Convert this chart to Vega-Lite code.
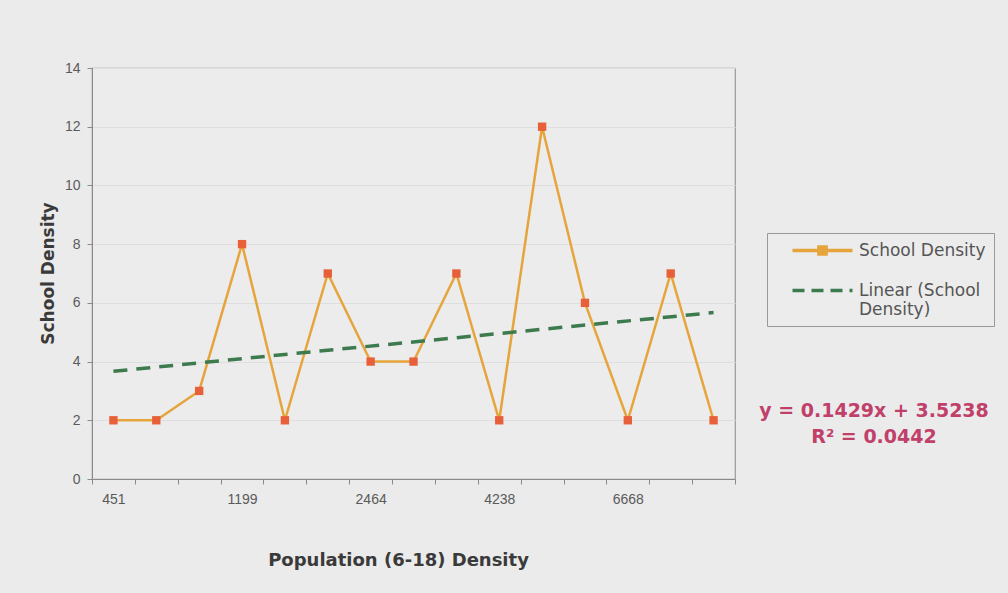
{
  "$schema": "https://vega.github.io/schema/vega-lite/v6.json",
  "width": 643,
  "height": 411,
  "autosize": "none",
  "padding": {"left": 92, "top": 68, "right": 273, "bottom": 114},
  "background": "#ebebeb",
  "title": {
    "text": ["y = 0.1429x + 3.5238", "R² = 0.0442"],
    "orient": "top",
    "anchor": "start",
    "frame": "group",
    "align": "center",
    "baseline": "middle",
    "offset": 0,
    "dx": 782,
    "dy": 395,
    "lineHeight": 26,
    "font": "DejaVu Sans",
    "fontSize": 19,
    "fontWeight": "bold",
    "color": "#c0406a"
  },
  "data": {
    "values": [
      {"pop": "451", "sd": 2, "trend": 3.67},
      {"pop": "612", "sd": 2},
      {"pop": "887", "sd": 3},
      {"pop": "1199", "sd": 8},
      {"pop": "1520", "sd": 2},
      {"pop": "1980", "sd": 7},
      {"pop": "2464", "sd": 4},
      {"pop": "2980", "sd": 4},
      {"pop": "3610", "sd": 7},
      {"pop": "4238", "sd": 2},
      {"pop": "5050", "sd": 12},
      {"pop": "5830", "sd": 6},
      {"pop": "6668", "sd": 2},
      {"pop": "7460", "sd": 7},
      {"pop": "8720", "sd": 2, "trend": 5.67}
    ]
  },
  "config": {
    "view": {"stroke": "#9a9a9a", "strokeWidth": 1.2, "fill": "#ececec"},
    "axis": {"labelFont": "Liberation Sans", "labelFontSize": 14, "labelColor": "#5a5a5a", "titleFont": "DejaVu Sans", "titleFontSize": 17, "titleFontWeight": "bold", "titleColor": "#3a3a3a", "domainColor": "#8a8a8a", "tickColor": "#8a8a8a"}
  },
  "encoding": {
    "x": {
      "field": "pop",
      "type": "ordinal",
      "sort": null,
      "scale": {"paddingInner": 0, "paddingOuter": 0},
      "axis": {
        "title": "Population (6-18) Density",
        "titleFontSize": 18,
        "titleX": 306,
        "titleY": 81,
        "titleBaseline": "middle",
        "labelAngle": 0,
        "tickBand": "extent",
        "tickSize": 5,
        "labelPadding": 8,
        "labelExpr": "indexof(['451','1199','2464','4238','6668'], datum.label) >= 0 ? datum.label : ''",
        "grid": false
      }
    }
  },
  "layer": [
    {
      "mark": {"type": "line", "strokeWidth": 2.5},
      "encoding": {
        "y": {
          "field": "sd",
          "type": "quantitative",
          "scale": {"domain": [0, 14]},
          "axis": {
            "title": "School Density",
            "values": [0, 2, 4, 6, 8, 10, 12, 14],
            "tickSize": 5,
            "labelPadding": 7,
            "titleAngle": 270,
            "titleX": -44,
            "titleY": 205,
            "titleAlign": "center",
            "titleBaseline": "middle",
            "grid": true,
            "gridColor": "#dedede",
            "gridWidth": 1
          }
        },
        "color": {
          "datum": "School Density",
          "type": "nominal",
          "scale": {"domain": ["School Density", "Linear (School Density)"], "range": ["#e6a53c", "#3d7a4e"]},
          "legend": {
            "title": null,
            "orient": "none",
            "legendX": 675,
            "legendY": 165,
            "symbolType": "M-4,0H4",
            "symbolSize": 225,
            "symbolStrokeWidth": 3.5,
            "symbolOffset": 38,
            "labelFont": "DejaVu Sans",
            "labelFontSize": 17,
            "labelColor": "#555555",
            "labelOffset": 27,
            "labelLimit": 400,
            "rowPadding": 19,
            "padding": 8,
            "fillColor": "#ececec",
            "strokeColor": "#999999",
            "labelExpr": "datum.label == 'Linear (School Density)' ? ['Linear (School', 'Density)'] : datum.label",
            "encode": {
              "symbols": {"update": {
                "shape": {"signal": "datum.value == 'School Density' ? 'M-4,0H4M-0.48,-0.48H0.48V0.48H-0.48Z' : 'M-4,0H4'"},
                "fill": {"signal": "datum.value == 'School Density' ? '#e8603a' : 'transparent'"},
                "strokeDash": {"signal": "datum.value == 'School Density' ? [1, 0] : [12, 7]"}
              }}
            }
          }
        }
      }
    },
    {
      "mark": {"type": "line", "strokeWidth": 3.5, "strokeDash": [14, 9], "invalid": "filter"},
      "encoding": {
        "y": {"field": "trend", "type": "quantitative"},
        "color": {"datum": "Linear (School Density)", "type": "nominal"}
      }
    },
    {
      "mark": {"type": "square", "size": 70, "filled": true, "color": "#e8603a", "opacity": 1},
      "encoding": {
        "y": {"field": "sd", "type": "quantitative"}
      }
    }
  ]
}
